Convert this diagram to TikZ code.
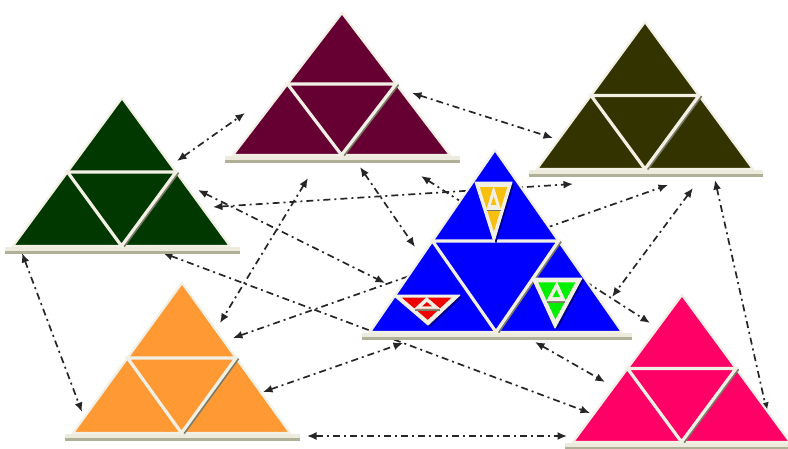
\documentclass[tikz,border=0pt]{standalone}
\usetikzlibrary{calc,arrows.meta}
\definecolor{cG}{HTML}{003800}
\definecolor{cM}{HTML}{660033}
\definecolor{cOl}{HTML}{333300}
\definecolor{cOr}{HTML}{FF9933}
\definecolor{cP}{HTML}{FF0066}
\definecolor{cB}{HTML}{0000FF}
\definecolor{cY}{HTML}{F7C00F}
\definecolor{cR}{HTML}{EE0000}
\definecolor{cLG}{HTML}{00F000}
\definecolor{edgecol}{HTML}{F2F0E4}
\definecolor{barlight}{HTML}{ECEBDD}
\definecolor{bardark}{HTML}{B0B098}
\definecolor{shadecol}{HTML}{7A7A66}
\tikzset{
  link/.style={{Latex[length=9.5pt,width=8pt]}-{Latex[length=9.5pt,width=8pt]},
    line width=1.7pt, black!85, dash pattern=on 7pt off 4pt on 2pt off 4pt},
  triedge/.style={draw=edgecol, line width=2.2pt, line join=round},
  innerline/.style={edgecol, line width=3.2pt},
  shadowline/.style={shadecol, line width=2pt}
}
\newcommand{\bigtri}[4]{%
  \coordinate (tA) at (#1); \coordinate (tL) at (#2); \coordinate (tR) at (#3);
  \fill[barlight] ($(tL)+(-8,1)$) rectangle ($(tR)+(10,7.5)$);
  \fill[bardark] ($(tL)+(-8,5)$) rectangle ($(tR)+(10,7.5)$);
  \filldraw[fill=#4, triedge] (tA)--(tL)--(tR)--cycle;
  \draw[shadowline] ($(tA)!0.5!(tR)+(2.5,0.5)$) -- ($(tL)!0.5!(tR)+(2.5,0.5)$);
  \draw[innerline] ($(tA)!0.5!(tL)$) -- ($(tA)!0.5!(tR)$) -- ($(tL)!0.5!(tR)$) -- cycle;
}
\newcommand{\minitri}[4]{%
  \coordinate (mA) at (#1); \coordinate (mB) at (#2); \coordinate (mC) at (#3);
  \coordinate (mO) at ($1/3*(mA)+1/3*(mB)+1/3*(mC)$);
  \fill[cB!55!black] ($(mA)+(2,2)$)--($(mB)+(2,2)$)--($(mC)+(2,2)$)--cycle;
  \filldraw[fill=edgecol, draw=edgecol, line width=1pt, line join=round] (mA)--(mB)--(mC)--cycle;
  \coordinate (iA) at ($(mO)!0.74!(mA)$);
  \coordinate (iB) at ($(mO)!0.74!(mB)$);
  \coordinate (iC) at ($(mO)!0.74!(mC)$);
  \fill[#4] (iA)--(iB)--(iC)--cycle;
  \coordinate (nA) at ($(iA)!0.5!(iB)$);
  \coordinate (nB) at ($(iB)!0.5!(iC)$);
  \coordinate (nC) at ($(iC)!0.5!(iA)$);
  \draw[shadecol, line width=1.6pt] ($(nB)+(0,1.2)$)--($(nC)+(0,1.2)$);
  \filldraw[fill=edgecol, draw=edgecol, line width=0.8pt] (nA)--(nB)--(nC)--cycle;
  \coordinate (nO) at ($1/3*(nA)+1/3*(nB)+1/3*(nC)$);
  \fill[#4] ($(nO)!0.4!(nA)$)--($(nO)!0.4!(nB)$)--($(nO)!0.4!(nC)$)--cycle;
}
\begin{document}
\begin{tikzpicture}[x=1pt,y=-1pt]
\useasboundingbox (0,0) rectangle (788,448);
% connector end points
\coordinate (Gm) at (177,161);  \coordinate (Gol) at (213,207);
\coordinate (Gb) at (198,190);  \coordinate (Gp) at (163,253);
\coordinate (Gor) at (22,253);
\coordinate (Mg) at (245,113);  \coordinate (Mol) at (412,93);
\coordinate (Mp) at (421,176);  \coordinate (Mor) at (308,178);
\coordinate (Mb) at (360,167);
\coordinate (Olm) at (553,138); \coordinate (Olg) at (573,184);
\coordinate (Olor) at (668,185);\coordinate (Olp) at (715,180);
\coordinate (Olb) at (693,188);
\coordinate (Bm) at (415,247);  \coordinate (Bg) at (385,283);
\coordinate (Bor) at (403,343); \coordinate (Bp) at (535,342);
\coordinate (Bol) at (612,297);
\coordinate (Orm) at (220,323); \coordinate (Org) at (82,412);
\coordinate (Orol) at (233,338);\coordinate (Orb) at (263,392);
\coordinate (Orp) at (307,436);
\coordinate (Pm) at (650,323);  \coordinate (Pg) at (590,413);
\coordinate (Por) at (567,436); \coordinate (Pb) at (605,382);
\coordinate (Pol) at (767,412);
% connectors
\draw[link] (Gm) -- (Mg);
\draw[link] (Mol) -- (Olm);
\draw[link] (Gol) -- (Olg);
\draw[link] (Mp) -- (Pm);
\draw[link] (Mor) -- (Orm);
\draw[link] (Mb) -- (Bm);
\draw[link] (Gb) -- (Bg);
\draw[link] (Gp) -- (Pg);
\draw[link] (Gor) -- (Org);
\draw[link] (Orol) -- (Olor);
\draw[link] (Orb) -- (Bor);
\draw[link] (Orp) -- (Por);
\draw[link] (Bp) -- (Pb);
\draw[link] (Olp) -- (Pol);
\draw[link] (Olb) -- (Bol);
% triangles
\bigtri{122,98}{13,246}{230,246}{cG}
\bigtri{342,13}{233,155}{450,155}{cM}
\bigtri{645,22}{537,169}{753,169}{cOl}
\bigtri{182,283}{73,433}{290,433}{cOr}
\bigtri{682,295}{573,442}{790,442}{cP}
\bigtri{495,150}{370,332}{622,332}{cB}
\minitri{475,182}{512,182}{494,242}{cY}
\minitri{393,295}{460,295}{428,325}{cR}
\minitri{532,278}{582,278}{555,328}{cLG}
\end{tikzpicture}
\end{document}
